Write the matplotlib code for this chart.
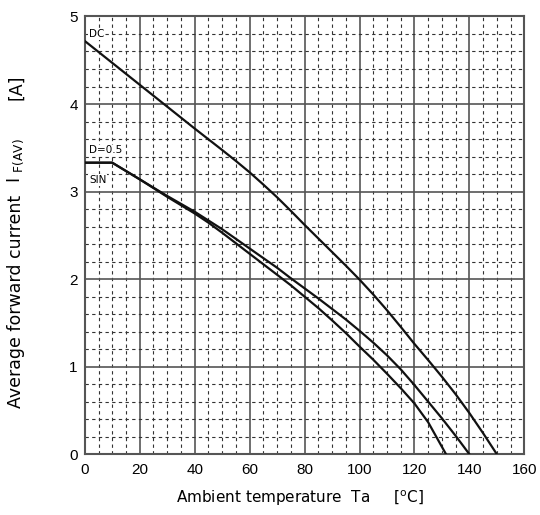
import matplotlib
matplotlib.use("Agg")
import matplotlib.pyplot as plt
import numpy as np

# Data
dc_x = [0, 10, 20, 30, 40, 50, 55, 60, 65, 70, 75, 80, 85, 90, 95, 100, 105, 110, 115, 120, 125, 130, 135, 140, 145, 150]
dc_y = [4.72, 4.47, 4.22, 3.97, 3.72, 3.475, 3.35, 3.22, 3.08, 2.935, 2.78, 2.62, 2.465, 2.31, 2.155, 1.995, 1.825,
        1.645, 1.455, 1.26, 1.075, 0.885, 0.685, 0.47, 0.24, 0.0]

d05_x = [0, 10, 15, 20, 25, 30, 35, 40, 45, 50, 55, 60, 65, 70, 75, 80, 85, 90, 95, 100, 105, 110, 115, 120, 125,
         130, 135, 140]
d05_y = [3.33, 3.33, 3.235, 3.14, 3.045, 2.95, 2.86, 2.77, 2.67, 2.57, 2.46, 2.35, 2.24, 2.13, 2.01, 1.895, 1.78,
         1.66, 1.54, 1.41, 1.275, 1.13, 0.97, 0.79, 0.60, 0.41, 0.21, 0.0]

sin_x = [0, 10, 15, 20, 25, 30, 35, 40, 45, 50, 55, 60, 65, 70, 75, 80, 85, 90, 95, 100, 105, 110, 115, 120, 125,
         131.5]
sin_y = [3.33, 3.33, 3.235, 3.14, 3.04, 2.94, 2.845, 2.75, 2.645, 2.53, 2.41, 2.29, 2.17, 2.05, 1.93, 1.80, 1.67,
         1.53, 1.385, 1.23, 1.08, 0.92, 0.755, 0.58, 0.365, 0.0]

x_ticks = [0, 20, 40, 60, 80, 100, 120, 140, 160]
y_ticks = [0, 1, 2, 3, 4, 5]

fig = plt.figure(figsize=(5.4, 5.15), dpi=100)
ax = fig.add_axes([0.157, 0.118, 0.814, 0.850])

ax.set_xlim(0, 160)
ax.set_ylim(0, 5)
ax.set_xticks(x_ticks)
ax.set_yticks(y_ticks)
ax.set_xticks(np.arange(0, 161, 5), minor=True)
ax.set_yticks(np.arange(0, 5.01, 0.2), minor=True)

ax.grid(which='major', color='#555555', linewidth=1.2, linestyle='-')
ax.grid(which='minor', color='#333333', linewidth=0.8, linestyle=(0, (3, 3)))
ax.set_axisbelow(True)

for s in ax.spines.values():
    s.set_color('#555555')
    s.set_linewidth(1.5)

ax.tick_params(which='both', length=0, labelsize=11, pad=5)
ax.tick_params(axis='x', pad=6)
for lab in ax.get_xticklabels() + ax.get_yticklabels():
    lab.set_family('Liberation Sans')

ax.plot(dc_x, dc_y, color='#111111', linewidth=1.6, zorder=3)
ax.plot(d05_x, d05_y, color='#111111', linewidth=1.6, zorder=3)
ax.plot(sin_x, sin_y, color='#111111', linewidth=1.6, zorder=3)

bb = dict(facecolor='white', edgecolor='none', pad=0.5)
ax.text(1.5, 4.8, 'DC', fontsize=7.5, ha='left', va='center', bbox=bb, zorder=4)
ax.text(1.5, 3.47, 'D=0.5', fontsize=7.5, ha='left', va='center', bbox=bb, zorder=4)
ax.text(1.5, 3.13, 'SIN', fontsize=7.5, ha='left', va='center', bbox=bb, zorder=4)

fig.text(0.555, 0.032, 'Ambient temperature  Ta     [$\\mathregular{^{o}}$C]', ha='center', va='center', fontsize=11)

ylx = 0.030
fig.text(ylx, 0.4146, 'Average forward current', ha='center', va='center', rotation=90, fontsize=12.5)
fig.text(ylx, 0.689, 'I $\\mathregular{_{F(AV)}}$', ha='center', va='center', rotation=90, fontsize=12.5)
fig.text(ylx, 0.830, '[A]', ha='center', va='center', rotation=90, fontsize=12.5)

fig.savefig('out.png', dpi=100)
